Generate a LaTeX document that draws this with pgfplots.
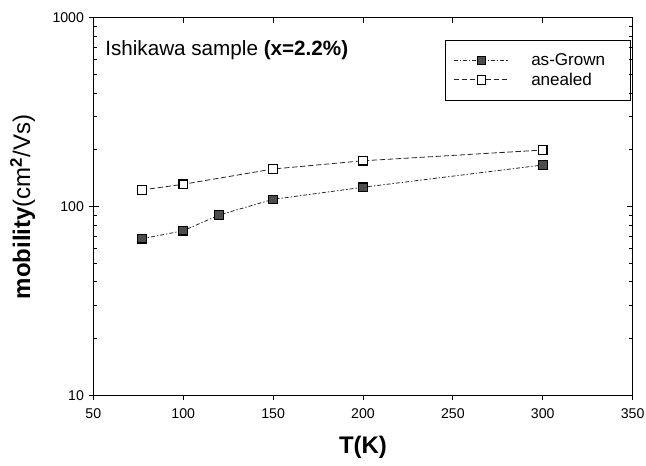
\documentclass[border=0pt]{standalone}
\usepackage{pgfplots}
\pgfplotsset{compat=1.18}
\usepackage{fontspec}
\setmainfont{Liberation Sans}
\begin{document}
\begin{tikzpicture}
\begin{axis}[
  scale only axis,
  width=404.6pt, height=283.5pt,
  xmin=50, xmax=350,
  ymode=log, ymin=10, ymax=1000,
  xtick={50,100,150,200,250,300,350},
  ytick={10,100,1000},
  /pgf/number format/assume math mode=true,
  axis line style={line width=0.9pt},
  xtick pos=bottom, ytick pos=left,
  tick align=outside,
  major tick length=3.5pt,
  minor tick length=0pt,
  yticklabels={10,100,1000},
  xticklabels={50,100,150,200,250,300,350},
  tick label style={font=\fontsize{10.6}{12}\selectfont},
  xticklabel style={yshift=-3pt},
  every tick/.style={black, line width=0.6pt},
  xlabel={\textbf{T(K)}},
  ylabel={\textbf{mobility}(cm$^{\mathbf{2}}$/Vs)},
  xlabel style={font=\fontsize{18}{21}\selectfont\bfseries, at={(axis description cs:0.5,-0.1376)}, anchor=center},
  ylabel style={font=\fontsize{18}{21}\selectfont, at={(axis description cs:-0.131,0.5)}, anchor=center},
  legend style={at={(rel axis cs:1,1)}, anchor=north east, xshift=-1.3pt, yshift=-16.5pt,
    font=\fontsize{12.8}{15}\selectfont, draw=black, line width=0.6pt,
    inner xsep=6pt, inner ysep=8pt, row sep=0pt,
    cells={anchor=west}},
  legend image code/.code={\draw[mark repeat=2,mark phase=2,#1] plot coordinates {(0pt,0pt) (21pt,0pt) (42pt,0pt)};},
]
\addplot[black!85, line width=0.6pt, dash pattern=on 3pt off 1.5pt on 1pt off 1.5pt,
  mark=square*, mark size=3.2pt, mark options={solid, fill=black!70, draw=black, line width=0.8pt}]
  coordinates {(77,67.7) (100,74.6) (120,90.4) (150,109.4) (200,126.7) (300,166.2)};
\addlegendentry{\hspace*{14pt}as-Grown\hspace*{11pt}\mbox{}}
\addplot[black!85, line width=0.6pt, dash pattern=on 4pt off 2pt,
  mark=square*, mark size=3.2pt, mark options={solid, fill=white, draw=black, line width=0.9pt}]
  coordinates {(77,122.6) (100,131.4) (150,158.3) (200,175) (300,199.5)};
\addlegendentry{\hspace*{14pt}anealed}
\node[anchor=base west, font=\fontsize{15.5}{18}\selectfont, inner sep=0pt]
  at ([xshift=8.8pt, yshift=-28pt]rel axis cs:0,1) {Ishikawa sample \textbf{(x=2.2\%)}};
\end{axis}
\begin{axis}[
  scale only axis,
  width=404.6pt, height=283.5pt,
  xmin=50, xmax=350,
  ymode=log, ymin=10, ymax=1000,
  xtick={50,100,150,200,250,300,350},
  ytick={10,100,1000},
  axis line style={draw=none},
  xtick pos=top, ytick pos=both,
  tick align=inside,
  major tick length=4pt,
  minor tick length=3pt,
  xticklabels={}, yticklabels={},
  every tick/.style={black, line width=0.6pt},
]
\end{axis}
\pgfresetboundingbox
\path[use as bounding box] ([xshift=-70pt, yshift=-52.7pt]current axis.south west) rectangle ([xshift=10pt, yshift=13.3pt]current axis.north east);
\end{tikzpicture}
\end{document}
